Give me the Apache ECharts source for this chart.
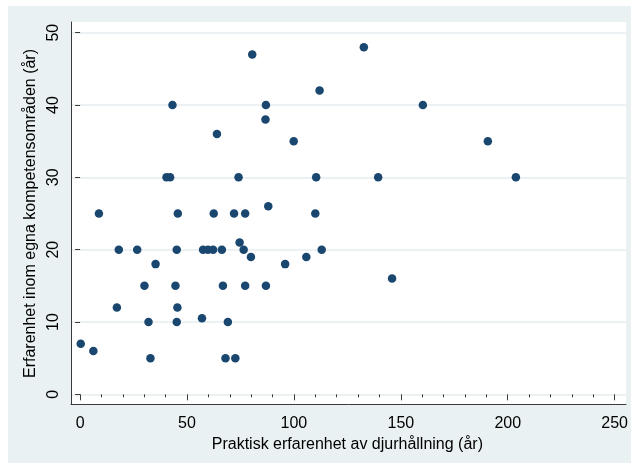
<!DOCTYPE html>
<html>
<head>
<meta charset="utf-8">
<script src="https://cdn.jsdelivr.net/npm/echarts@6/dist/echarts.min.js"></script>
<style>
  html, body { margin: 0; padding: 0; background: #ffffff; }
  #chart { position: absolute; left: 8px; top: 6px; width: 623px; height: 457px; background: #E9F1F3; }
</style>
</head>
<body>
<div id="chart"></div>
<script>
// Practical animal-husbandry experience (years) vs. experience within own field (years)
const praktiskErfarenhet = [
  0.3, 6.2, 8.8, 18.1, 26.7, 17.2, 35.3, 30.1, 32.0, 32.9,
  44.6, 45.2, 45.7, 45.5, 45.2, 57.0, 57.5, 59.8, 62.2, 66.3,
  62.5, 72.0, 77.2, 88.0, 74.6, 76.5, 79.9, 66.8, 77.2, 86.9,
  69.1, 68.0, 72.6, 80.5, 43.2, 86.9, 86.7, 64.0, 40.4, 42.1,
  74.1, 132.7, 112.0, 99.9, 110.4, 139.4, 160.3, 110.0, 95.9, 105.8,
  113.0, 145.9, 190.7, 203.8
];
const kompetensErfarenhet = [
  7, 6, 25, 20, 20, 12, 18, 15, 10, 5,
  15, 20, 25, 12, 10, 10.5, 20, 20, 20, 20,
  25, 25, 25, 26, 21, 20, 19, 15, 15, 15,
  10, 5, 5, 47, 40, 40, 38, 36, 30, 30,
  30, 48, 42, 35, 30, 30, 40, 25, 18, 19,
  20, 16, 35, 30
];
const xTicks = [0, 50, 100, 150, 200, 250];
const yTicks = [0, 10, 20, 30, 40, 50];

const xTitle = 'Praktisk erfarenhet av djurhållning (år)';
const yTitle = 'Erfarenhet inom egna kompetensområden (år)';

const points = praktiskErfarenhet.map((v, i) => [v, kompetensErfarenhet[i]]);

const FONT = 'Liberation Sans, Arial, sans-serif';
const AXIS = '#3a3a3a';

const chart = echarts.init(document.getElementById('chart'), null, { renderer: 'canvas' });
chart.setOption({
  animation: false,
  backgroundColor: 'transparent',
  grid: [
    // plot region frame (white)
    { left: 63, right: 5, top: 16, bottom: 59, show: true, backgroundColor: '#ffffff', borderWidth: 0 },
    // data area
    { left: 72.1, right: 14.9, top: 26.7, bottom: 68.7 },
    // horizontal grid lines across the whole plot region
    { left: 63, right: 5, top: 26.7, bottom: 68.7 }
  ],
  xAxis: [
    { gridIndex: 0, type: 'value', min: 0, max: 1, axisLine: { show: true, lineStyle: { color: AXIS, width: 1 } },
      axisTick: { show: false }, axisLabel: { show: false }, splitLine: { show: false } },
    { gridIndex: 1, type: 'value', min: xTicks[0], max: xTicks[xTicks.length - 1], interval: 50, offset: 9.7,
      axisLine: { show: false },
      axisTick: { show: true, length: 6, lineStyle: { color: AXIS } },
      minorTick: { show: true, splitNumber: 5, length: 3, lineStyle: { color: AXIS } },
      axisLabel: { show: true, margin: 12, color: '#000', fontFamily: FONT, fontSize: 16 },
      splitLine: { show: false },
      name: xTitle, nameLocation: 'middle', nameGap: 26,
      nameTextStyle: { color: '#000', fontFamily: FONT, fontSize: 16 } },
    { gridIndex: 2, type: 'value', min: 0, max: 1, show: false }
  ],
  yAxis: [
    { gridIndex: 0, type: 'value', min: 0, max: 1, axisLine: { show: true, lineStyle: { color: AXIS, width: 1 } },
      axisTick: { show: false }, axisLabel: { show: false }, splitLine: { show: false } },
    { gridIndex: 1, type: 'value', min: yTicks[0], max: yTicks[yTicks.length - 1], interval: 10, offset: 9.1,
      axisLine: { show: false },
      axisTick: { show: true, length: 5, lineStyle: { color: AXIS } },
      axisLabel: { show: true, rotate: 90, margin: 9, color: '#000', fontFamily: FONT, fontSize: 16 },
      splitLine: { show: false },
      name: yTitle, nameLocation: 'middle', nameGap: 23,
      nameTextStyle: { color: '#000', fontFamily: FONT, fontSize: 16 } },
    { gridIndex: 2, type: 'value', min: yTicks[0], max: yTicks[yTicks.length - 1], interval: 10,
      axisLine: { show: false }, axisTick: { show: false }, axisLabel: { show: false },
      splitLine: { show: true, lineStyle: { color: '#E6EEF1', width: 1.5 } } }
  ],
  series: [{
    type: 'scatter',
    xAxisIndex: 1,
    yAxisIndex: 1,
    data: points,
    symbol: 'circle',
    symbolSize: 8.5,
    itemStyle: { color: '#1A476F', opacity: 1 },
    z: 5
  }]
});
</script>
</body>
</html>
